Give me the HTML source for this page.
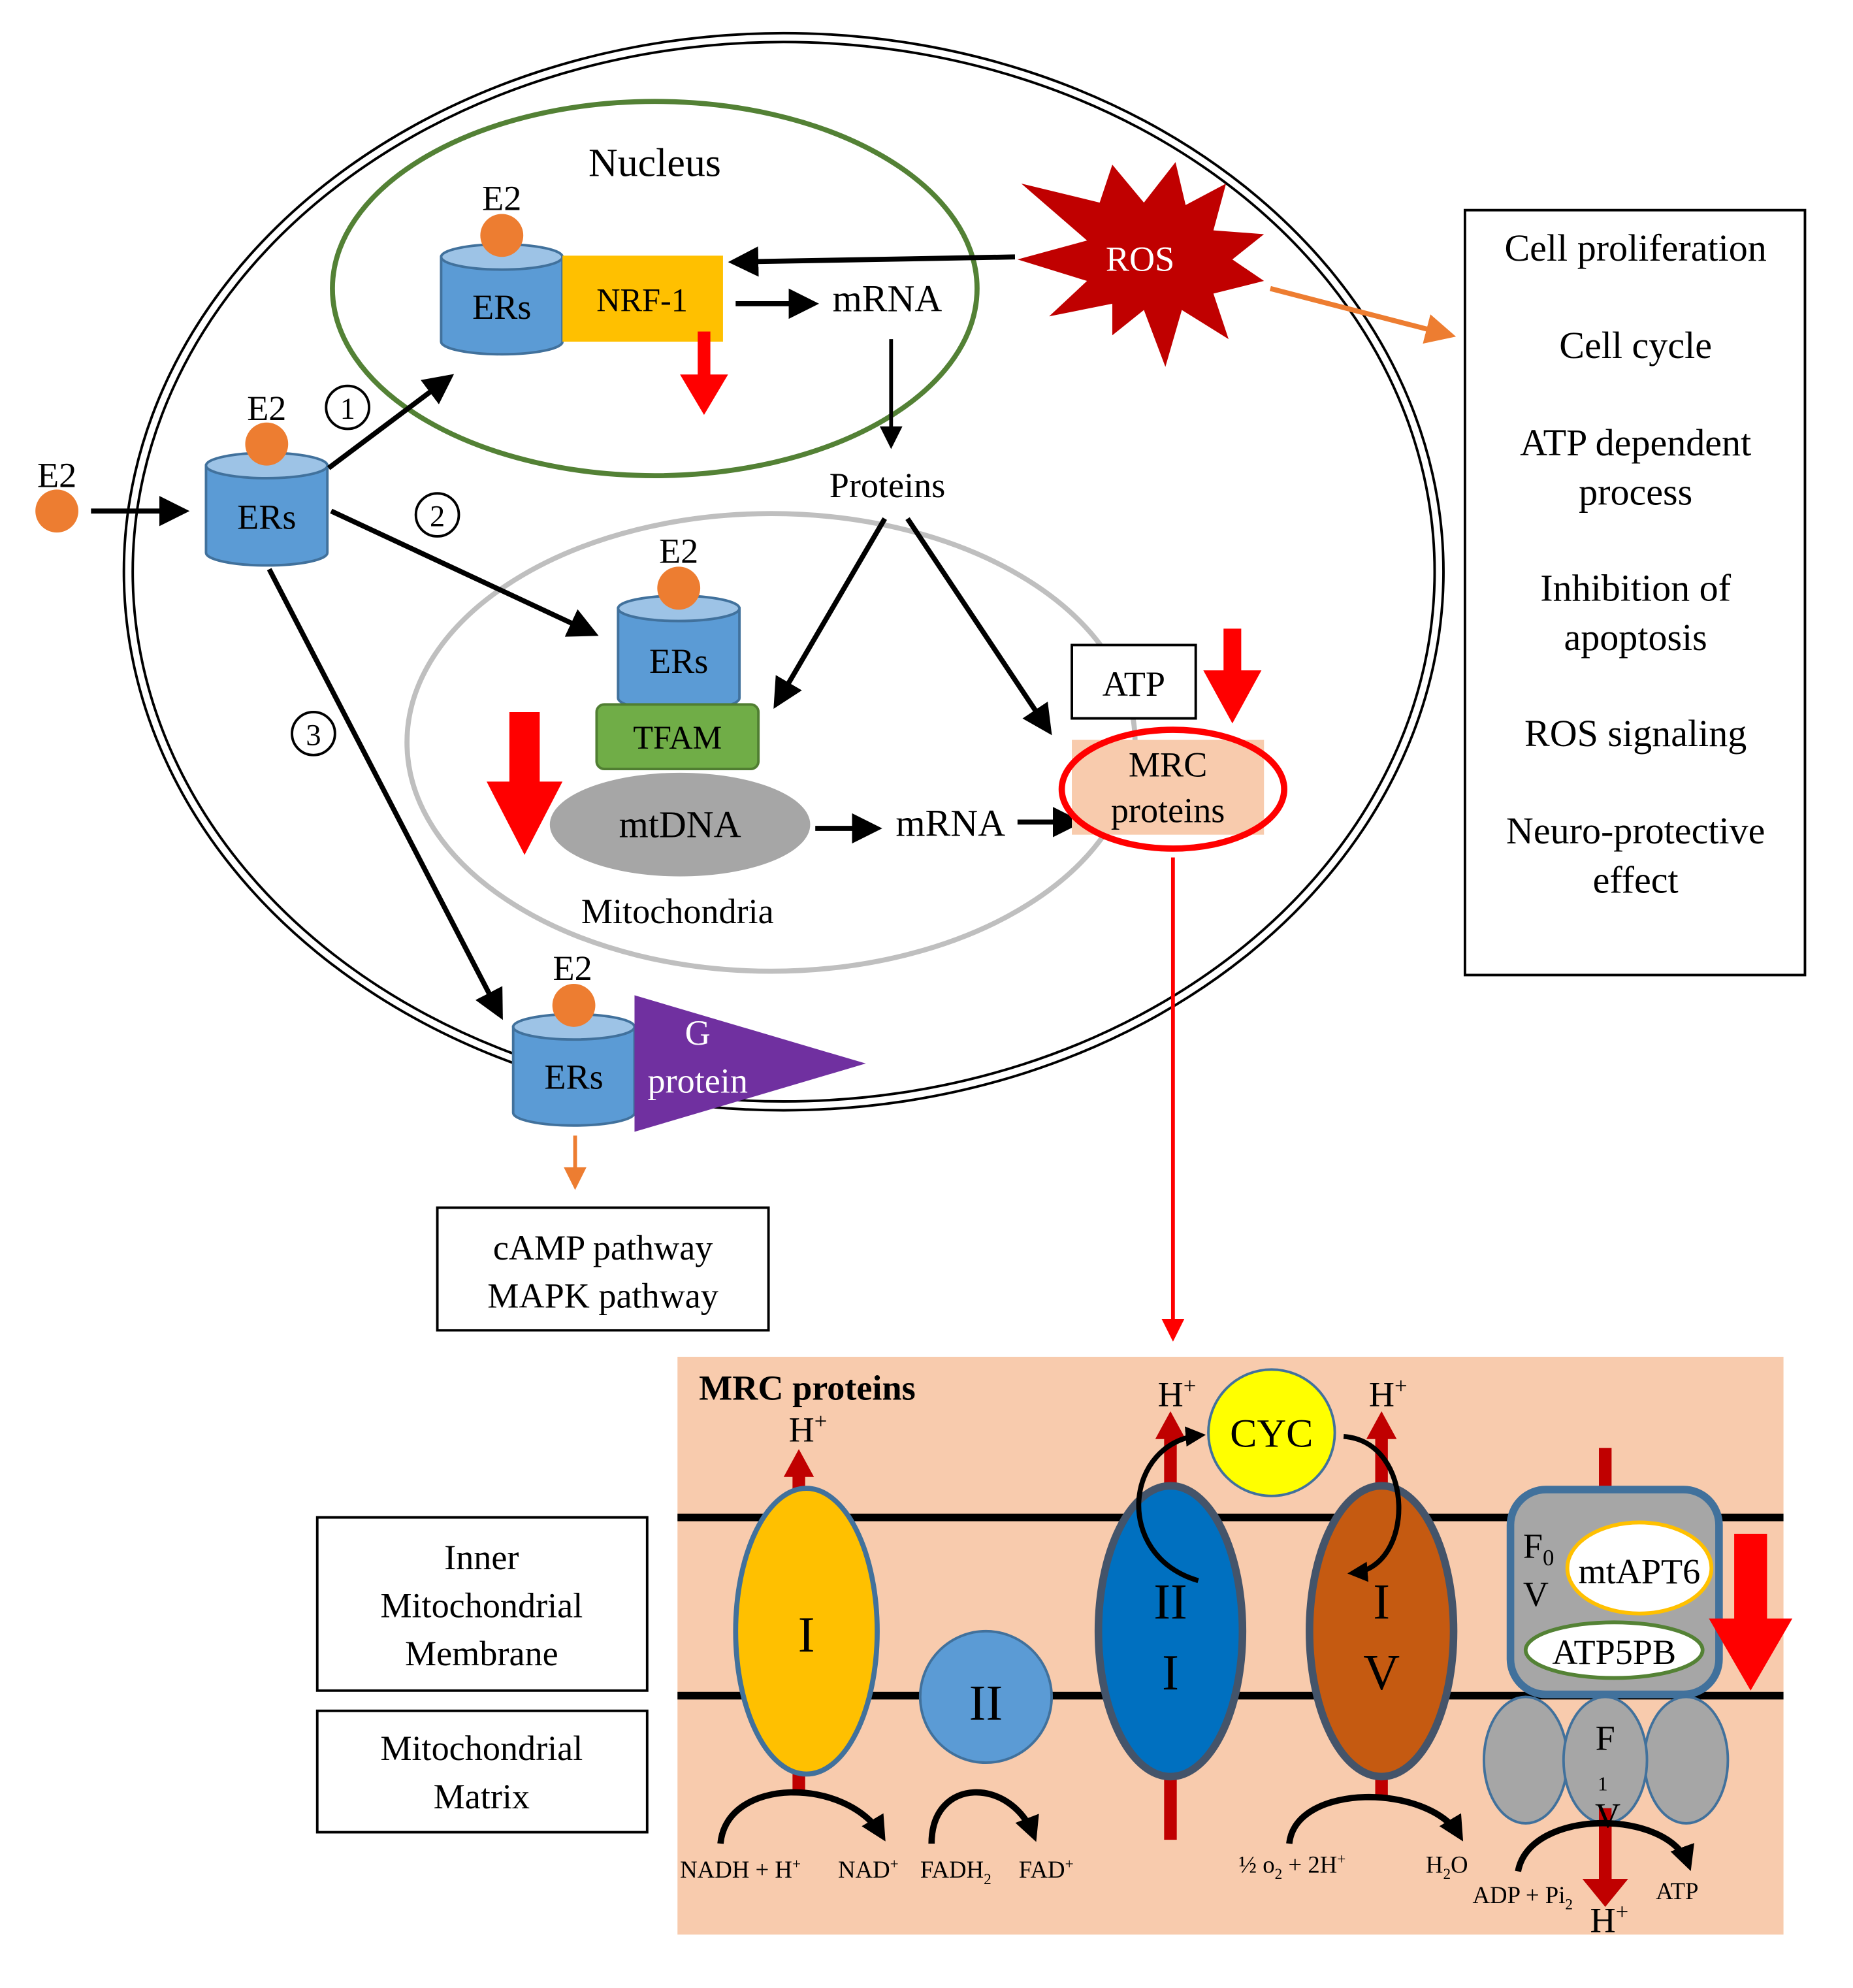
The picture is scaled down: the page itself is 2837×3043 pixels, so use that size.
<!DOCTYPE html>
<html><head><meta charset="utf-8"><style>
html,body{margin:0;padding:0;background:#fff}
svg{display:block}
text{font-family:"Liberation Serif",serif;fill:#000}
</style></head><body>
<svg width="2837" height="3043" viewBox="0 0 1466 1572" xmlns="http://www.w3.org/2000/svg">
<defs>
<marker id="ab" markerWidth="6" markerHeight="6" refX="5" refY="3" orient="auto" markerUnits="strokeWidth"><path d="M0,0 L6,3 L0,6 z" fill="#000"/></marker>
<marker id="abs" markerWidth="4" markerHeight="4" refX="3" refY="2" orient="auto" markerUnits="strokeWidth"><path d="M0,0 L4,2 L0,4 z" fill="#000"/></marker>
<marker id="ao" markerWidth="6" markerHeight="6" refX="5" refY="3" orient="auto" markerUnits="strokeWidth"><path d="M0,0 L6,3 L0,6 z" fill="#ed7d31"/></marker>
<marker id="ar" markerWidth="6" markerHeight="6" refX="5" refY="3" orient="auto" markerUnits="strokeWidth"><path d="M0,0 L6,3 L0,6 z" fill="#ff0000"/></marker>
</defs>
<!-- cell -->
<ellipse cx="620" cy="452" rx="522" ry="426" fill="none" stroke="#000" stroke-width="2"/>
<ellipse cx="620" cy="452" rx="515" ry="419" fill="none" stroke="#000" stroke-width="2"/>
<!-- nucleus -->
<ellipse cx="518" cy="228" rx="255" ry="148" fill="none" stroke="#538135" stroke-width="4"/>
<text x="518" y="139" font-size="32" text-anchor="middle">Nucleus</text>
<!-- mito -->
<ellipse cx="610" cy="587" rx="288" ry="181" fill="none" stroke="#bfbfbf" stroke-width="4"/>
<text x="536" y="730" font-size="28" text-anchor="middle">Mitochondria</text>

<!-- cylinders -->
<g stroke="#41719c" stroke-width="2">
<path d="M349,203 V270 A48,10 0 0 0 445,270 V203 Z" fill="#5b9bd5"/><ellipse cx="397" cy="203" rx="48" ry="10" fill="#9dc3e6"/>
<path d="M163,368 V437 A48,10 0 0 0 259,437 V368 Z" fill="#5b9bd5"/><ellipse cx="211" cy="368" rx="48" ry="10" fill="#9dc3e6"/>
<path d="M489,481 V552 A48,10 0 0 0 585,552 V481 Z" fill="#5b9bd5"/><ellipse cx="537" cy="481" rx="48" ry="10" fill="#9dc3e6"/>
<path d="M406,812 V880 A48,10 0 0 0 502,880 V812 Z" fill="#5b9bd5"/><ellipse cx="454" cy="812" rx="48" ry="10" fill="#9dc3e6"/>
</g>
<rect x="445" y="202" width="127" height="68" fill="#ffc000"/>
<text x="508" y="246" font-size="26" text-anchor="middle">NRF-1</text>
<rect x="472" y="557" width="128" height="51" rx="6" fill="#70ad47" stroke="#507e32" stroke-width="2"/>
<text x="536" y="592" font-size="26" text-anchor="middle">TFAM</text>
<ellipse cx="538" cy="652" rx="103" ry="41" fill="#a6a6a6"/>
<text x="538" y="662" font-size="30" text-anchor="middle">mtDNA</text>
<polygon points="502,787 685,841 502,895" fill="#7030a0"/>
<text x="552" y="826" font-size="28" text-anchor="middle" style="fill:#fff">G</text>
<text x="552" y="864" font-size="28" text-anchor="middle" style="fill:#fff">protein</text>

<g font-size="28" text-anchor="middle">
<text x="397" y="252">ERs</text><text x="211" y="418">ERs</text><text x="537" y="532">ERs</text><text x="454" y="861">ERs</text>
<text x="397" y="166">E2</text><text x="211" y="332">E2</text><text x="537" y="445">E2</text><text x="453" y="775">E2</text><text x="45" y="385">E2</text>
</g>
<g fill="#ed7d31">
<circle cx="397" cy="186" r="17"/><circle cx="211" cy="351" r="17"/><circle cx="537" cy="465" r="17"/><circle cx="454" cy="795" r="17"/><circle cx="45" cy="404" r="17"/>
</g>

<!-- black arrows -->
<g stroke="#000" stroke-width="4" marker-end="url(#ab)" fill="none">
<line x1="72" y1="404" x2="146" y2="404"/>
<line x1="260" y1="370" x2="356" y2="298"/>
<line x1="262" y1="404" x2="470" y2="501"/>
<line x1="213" y1="450" x2="396" y2="803"/>
<line x1="582" y1="240" x2="644" y2="240"/>
<line x1="803" y1="203" x2="580" y2="207"/>
<line x1="705" y1="268" x2="705" y2="352" stroke-width="3"/>
<line x1="700" y1="410" x2="614" y2="557"/>
<line x1="718" y1="410" x2="830" y2="578"/>
<line x1="645" y1="655" x2="694" y2="655"/>
<line x1="805" y1="650" x2="853" y2="650"/>
</g>
<text x="702" y="246" font-size="30" text-anchor="middle">mRNA</text>
<text x="702" y="393" font-size="28" text-anchor="middle">Proteins</text>
<text x="752" y="661" font-size="30" text-anchor="middle">mRNA</text>

<g fill="none" stroke="#000" stroke-width="2"><circle cx="275" cy="322" r="17"/><circle cx="346" cy="407" r="17"/><circle cx="248" cy="580" r="17"/></g>
<g font-size="24" text-anchor="middle"><text x="275" y="331">1</text><text x="346" y="416">2</text><text x="248" y="589">3</text></g>

<!-- red arrows -->
<polygon points="552,262 562,262 562,296 576,296 557,328 538,296 552,296" fill="#ff0000"/>
<polygon points="403,563 427,563 427,618 445,618 415,676 385,618 403,618" fill="#ff0000"/>
<polygon points="968,497 982,497 982,530 998,530 975,572 952,530 968,530" fill="#ff0000"/>

<rect x="848" y="510" width="98" height="58" fill="#fff" stroke="#000" stroke-width="2"/>
<text x="897" y="550" font-size="28" text-anchor="middle">ATP</text>
<rect x="848" y="585" width="152" height="75" fill="#f8cbad"/>
<ellipse cx="928" cy="624" rx="88" ry="47" fill="none" stroke="#ff0000" stroke-width="5"/>
<text x="924" y="614" font-size="28" text-anchor="middle">MRC</text>
<text x="924" y="650" font-size="28" text-anchor="middle">proteins</text>
<line x1="928" y1="678" x2="928" y2="1058" stroke="#ff0000" stroke-width="3" marker-end="url(#ar)"/>

<!-- ROS -->
<polygon fill="#c00000" points="1000,222 960,232 972,268 935,245 922,290 905,245 880,265 880,240 830,250 860,222 805,205 860,190 808,145 870,160 880,130 905,160 930,128 938,162 970,145 960,182 1000,185 975,205" />
<text x="902" y="214" font-size="28" text-anchor="middle" style="fill:#fff">ROS</text>
<line x1="1005" y1="228" x2="1148" y2="265" stroke="#ed7d31" stroke-width="4" marker-end="url(#ao)"/>

<!-- right box -->
<rect x="1159" y="166" width="269" height="605" fill="#fff" stroke="#000" stroke-width="2"/>
<g font-size="30" text-anchor="middle">
<text x="1294" y="206">Cell proliferation</text><text x="1294" y="283">Cell cycle</text>
<text x="1294" y="360">ATP dependent</text><text x="1294" y="399">process</text>
<text x="1294" y="475">Inhibition of</text><text x="1294" y="514">apoptosis</text>
<text x="1294" y="590">ROS signaling</text>
<text x="1294" y="667">Neuro-protective</text><text x="1294" y="706">effect</text>
</g>

<line x1="455" y1="898" x2="455" y2="938" stroke="#ed7d31" stroke-width="3" marker-end="url(#ao)"/>
<rect x="346" y="955" width="262" height="97" fill="#fff" stroke="#000" stroke-width="2"/>
<text x="477" y="996" font-size="28" text-anchor="middle">cAMP pathway</text>
<text x="477" y="1034" font-size="28" text-anchor="middle">MAPK pathway</text>

<rect x="251" y="1200" width="261" height="137" fill="#fff" stroke="#000" stroke-width="2"/>
<rect x="251" y="1353" width="261" height="96" fill="#fff" stroke="#000" stroke-width="2"/>
<g font-size="28" text-anchor="middle">
<text x="381" y="1241">Inner</text><text x="381" y="1279">Mitochondrial</text><text x="381" y="1317">Membrane</text>
<text x="381" y="1392">Mitochondrial</text><text x="381" y="1430">Matrix</text>
</g>

<!-- bottom panel -->
<rect x="536" y="1073" width="875" height="457" fill="#f8cbad"/>
<line x1="536" y1="1200" x2="1411" y2="1200" stroke="#000" stroke-width="6"/>
<line x1="536" y1="1341" x2="1411" y2="1341" stroke="#000" stroke-width="6"/>
<text x="553" y="1107" font-size="28" font-weight="bold">MRC proteins</text>
<g stroke="#c00000" stroke-width="10">
<line x1="632" y1="1420" x2="632" y2="1165"/>
<line x1="926" y1="1455" x2="926" y2="1135"/>
<line x1="1093" y1="1420" x2="1093" y2="1135"/>
<line x1="1270" y1="1145" x2="1270" y2="1182"/>
<line x1="1270" y1="1430" x2="1270" y2="1488"/>
</g>
<g fill="#c00000">
<polygon points="620,1168 644,1168 632,1146"/>
<polygon points="914,1138 938,1138 926,1116"/>
<polygon points="1081,1138 1105,1138 1093,1116"/>
<polygon points="1252,1486 1288,1486 1270,1508"/>
</g>
<ellipse cx="638" cy="1290" rx="56" ry="113" fill="#ffc000" stroke="#41719c" stroke-width="4"/>
<circle cx="780" cy="1342" r="52" fill="#5b9bd5" stroke="#41719c" stroke-width="2"/>
<ellipse cx="926" cy="1290" rx="57" ry="115" fill="#0070c0" stroke="#44546a" stroke-width="6"/>
<ellipse cx="1093" cy="1290" rx="57" ry="115" fill="#c55a11" stroke="#44546a" stroke-width="6"/>
<circle cx="1006" cy="1133" r="50" fill="#ffff00" stroke="#41719c" stroke-width="2"/>
<rect x="1195" y="1178" width="165" height="162" rx="28" fill="#a6a6a6" stroke="#41719c" stroke-width="6"/>
<ellipse cx="1297" cy="1240" rx="57" ry="36" fill="#fff" stroke="#ffc000" stroke-width="3"/>
<ellipse cx="1277" cy="1305" rx="70" ry="22" fill="#fff" stroke="#548235" stroke-width="3"/>
<g fill="#a6a6a6" stroke="#41719c" stroke-width="2">
<ellipse cx="1207" cy="1392" rx="33" ry="50"/><ellipse cx="1334" cy="1392" rx="33" ry="50"/><ellipse cx="1270" cy="1392" rx="33" ry="50"/>
</g>
<line x1="1270" y1="1430" x2="1270" y2="1488" stroke="#c00000" stroke-width="10"/>
<polygon points="1252,1486 1288,1486 1270,1508" fill="#c00000"/>
<polygon points="1372,1213 1398,1213 1398,1280 1418,1280 1385,1337 1352,1280 1372,1280" fill="#ff0000"/>

<g font-size="40" text-anchor="middle">
<text x="638" y="1306">I</text><text x="780" y="1360">II</text>
<text x="926" y="1280">II</text><text x="926" y="1336">I</text>
<text x="1093" y="1280">I</text><text x="1093" y="1336">V</text>
</g>
<text x="1006" y="1144" font-size="32" text-anchor="middle">CYC</text>
<text x="1297" y="1252" font-size="28" text-anchor="middle">mtAPT6</text>
<text x="1277" y="1316" font-size="28" text-anchor="middle">ATP5PB</text>
<text x="1205" y="1232" font-size="28">F<tspan font-size="18" dy="6">0</tspan></text>
<text x="1205" y="1270" font-size="28">V</text>
<text x="1270" y="1384" font-size="28" text-anchor="middle">F</text>
<text x="1268" y="1416" font-size="16" text-anchor="middle">1</text>
<text x="1272" y="1445" font-size="28" text-anchor="middle">V</text>

<!-- curved arrows -->
<g fill="none" stroke="#000" stroke-width="5" marker-end="url(#abs)">
<path d="M570,1458 C575,1405 670,1405 698,1452"/>
<path d="M737,1458 C737,1405 800,1405 818,1452"/>
<path d="M1020,1458 C1025,1410 1130,1410 1155,1452"/>
<path d="M1201,1480 C1210,1430 1320,1430 1336,1475"/>
<path d="M948,1250 C880,1230 890,1140 950,1135" stroke-width="4"/>
<path d="M1063,1136 C1120,1140 1120,1240 1070,1244" stroke-width="4"/>
</g>

<g font-size="28">
<text x="624" y="1140">H<tspan font-size="18" dy="-10">+</tspan></text>
<text x="916" y="1112">H<tspan font-size="18" dy="-10">+</tspan></text>
<text x="1083" y="1112">H<tspan font-size="18" dy="-10">+</tspan></text>
<text x="1258" y="1528">H<tspan font-size="18" dy="-10">+</tspan></text>
</g>
<g font-size="19">
<text x="538" y="1485">NADH + H<tspan font-size="12" dy="-7">+</tspan></text>
<text x="663" y="1485">NAD<tspan font-size="12" dy="-7">+</tspan></text>
<text x="728" y="1485">FADH<tspan font-size="12" dy="5">2</tspan></text>
<text x="806" y="1485">FAD<tspan font-size="12" dy="-7">+</tspan></text>
<text x="980" y="1481">½ o<tspan font-size="12" dy="5">2</tspan><tspan dy="-5"> + 2H</tspan><tspan font-size="12" dy="-7">+</tspan></text>
<text x="1128" y="1481">H<tspan font-size="12" dy="5">2</tspan><tspan dy="-5">O</tspan></text>
<text x="1165" y="1505">ADP + Pi<tspan font-size="12" dy="5">2</tspan></text>
<text x="1310" y="1502">ATP</text>
</g>
</svg>
</body></html>
